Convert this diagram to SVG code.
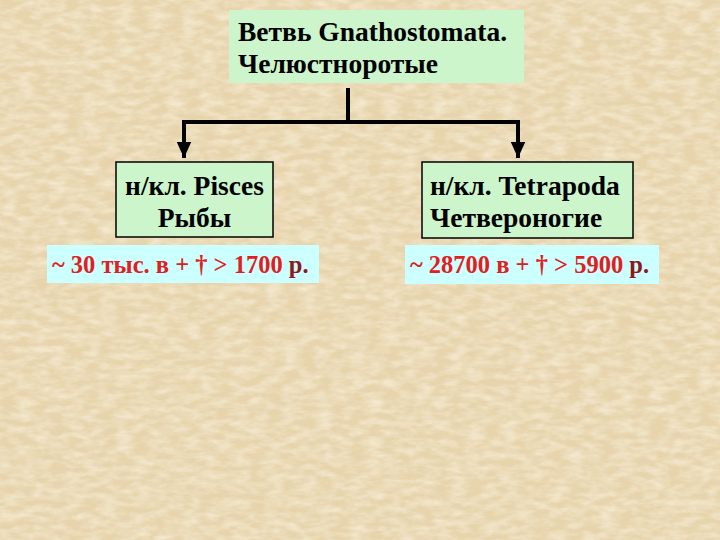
<svg xmlns="http://www.w3.org/2000/svg" width="720" height="540" viewBox="0 0 720 540">
<defs>
<filter id="paper" x="0" y="0" width="100%" height="100%">
<feTurbulence type="fractalNoise" baseFrequency="0.06 0.15" numOctaves="3" seed="4" result="n"/>
<feColorMatrix in="n" type="matrix" values="0 0 0 0 0.96  0 0 0 0 0.90  0 0 0 0 0.76  0 0 0 1.2 -0.4" result="c"/>
<feComposite in="c" in2="SourceGraphic" operator="in"/>
</filter>
<marker id="arr" viewBox="0 0 10 10" refX="10" refY="5" markerWidth="4" markerHeight="3.6" markerUnits="strokeWidth" orient="auto" preserveAspectRatio="none">
<path d="M0,0 L10,5 L0,10 z" fill="#000"/>
</marker>
<style>
.t{font-family:"Liberation Serif","Times New Roman",serif;font-weight:bold;fill:#000;}
.big{font-size:27.5px;}
.r{font-family:"Liberation Serif","Times New Roman",serif;font-weight:bold;font-size:24.5px;fill:#e02020;}
.dr{fill:#8b1a1a;}
.green{fill:#ccf5cc;}
.cyan{fill:#ccffff;}
.con{fill:none;stroke:#000;stroke-width:4;}
</style>
</defs>
<rect width="720" height="540" fill="#e7d4ac"/>
<rect width="720" height="540" fill="#fff" filter="url(#paper)"/>

<g id="connectors">
<line class="con" x1="348" y1="88" x2="348" y2="122"/>
<polyline class="con" points="184,140 184,122 518,122 518,140"/>
<line class="con" x1="184" y1="124" x2="184" y2="158" marker-end="url(#arr)"/>
<line class="con" x1="518" y1="124" x2="518" y2="158" marker-end="url(#arr)"/>
</g>

<g id="root">
<rect class="green" x="229" y="10" width="295" height="73"/>
<text class="t big" x="238" y="41">Ветвь Gnathostomata.</text>
<text class="t big" x="238" y="73">Челюстноротые</text>
</g>

<g id="pisces">
<rect class="green" x="116" y="162" width="157" height="75" stroke="#000" stroke-width="1.5"/>
<text class="t big" x="194.5" y="195" text-anchor="middle">н/кл. Pisces</text>
<text class="t big" x="194.5" y="227" text-anchor="middle">Рыбы</text>
</g>

<g id="pisces-count">
<rect class="cyan" x="47" y="245" width="272" height="38"/>
<text class="r" x="52" y="273">~ 30 тыс. в + † &gt; 1700 <tspan class="dr">р.</tspan></text>
</g>

<g id="tetrapoda">
<rect class="green" x="422" y="162" width="211" height="76" stroke="#000" stroke-width="1.5"/>
<text class="t big" x="430" y="195">н/кл. Tetrapoda</text>
<text class="t big" x="430" y="227">Четвероногие</text>
</g>

<g id="tetrapoda-count">
<rect class="cyan" x="405" y="245" width="254" height="39"/>
<text class="r" x="410" y="273">~ 28700 в + † &gt; 5900 <tspan class="dr">р.</tspan></text>
</g>
</svg>
